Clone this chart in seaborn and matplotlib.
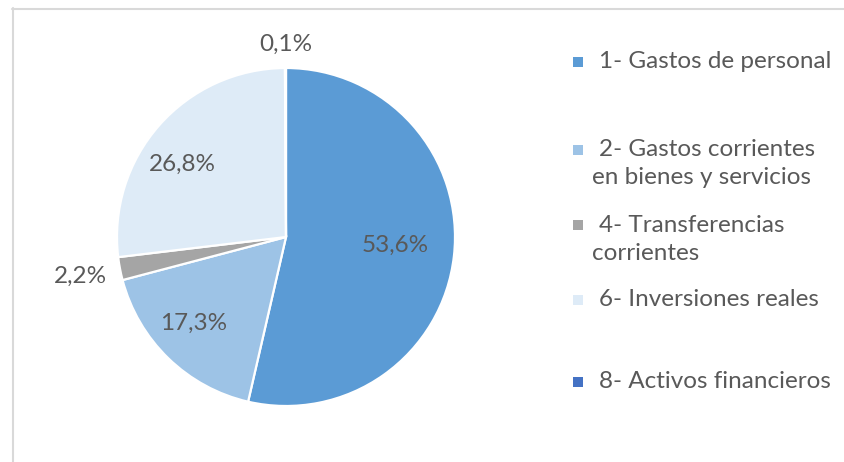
import matplotlib
matplotlib.use("Agg")
import matplotlib.pyplot as plt
import matplotlib.patches as mpatches
from matplotlib.lines import Line2D
import numpy as np
import seaborn as sns

# datos del grafico
categorias = ["1- Gastos de personal",
              "2- Gastos corrientes\nen bienes y servicios",
              "4- Transferencias\ncorrientes",
              "6- Inversiones reales",
              "8- Activos financieros"]
porcentajes = [53.6, 17.3, 2.2, 26.8, 0.1]
colores = ["#5b9bd5", "#9dc3e6", "#a5a5a5", "#deebf7", "#4472c4"]

sns.set_theme(style="white")
plt.rcParams['font.family'] = ['Lato', 'DejaVu Sans']
gris_texto = "#595959"
tam = 17.5

fig = plt.figure(figsize=(8.44, 4.62), dpi=100)
W, H = 844, 462

# centro y radio del pastel en pixeles
cx, cy, r = 286, 237, 169
ax = fig.add_axes([(cx - r) / W, (H - cy - r) / H, 2 * r / W, 2 * r / H])

wedges, _ = ax.pie(porcentajes, colors=sns.color_palette(colores), startangle=90,
                   counterclock=False, radius=1,
                   wedgeprops=dict(edgecolor="white", linewidth=1.6))
ax.set_xlim(-1, 1)
ax.set_ylim(-1, 1)
ax.set_aspect("equal")
ax.axis("off")

# distancia y giro de cada etiqueta respecto al centro del sector
distancias = [0.65, 0.75, 1.24, 0.75, 1.14]
giros = [2, -3, 0, 6.5, 0]
for w, p, d, g in zip(wedges, porcentajes, distancias, giros):
    ang = np.deg2rad((w.theta1 + w.theta2) / 2 + g)
    txt = f"{p:.1f}%".replace(".", ",")
    ax.text(d * np.cos(ang), d * np.sin(ang), txt, ha="center", va="center",
            fontsize=tam, color=gris_texto, clip_on=False)

# leyenda manual (y de la primera linea de cada entrada, en pixeles)
ys = [62, 150, 225, 300, 382]
for lab, col, y in zip(categorias, colores, ys):
    fig.patches.append(mpatches.Rectangle((573 / W, (H - y - 5) / H), 10 / W, 10 / H,
                                          transform=fig.transFigure, facecolor=col,
                                          edgecolor="none"))
    lineas = lab.split("\n")
    fig.text(599 / W, (H - y) / H, lineas[0], ha="left", va="center",
             fontsize=tam, color=gris_texto)
    if len(lineas) > 1:
        fig.text(592 / W, (H - y - 28) / H, lineas[1], ha="left", va="center",
                 fontsize=tam, color=gris_texto)

# marco del grafico
fig.add_artist(Line2D([12.5 / W, 12.5 / W], [0, (H - 8) / H], color="#d9d9d9",
                      linewidth=1.5, transform=fig.transFigure))
fig.add_artist(Line2D([12 / W, 1], [(H - 8.5) / H, (H - 8.5) / H], color="#d9d9d9",
                      linewidth=1.5, transform=fig.transFigure))

fig.savefig("out.png", dpi=100, facecolor="white")
